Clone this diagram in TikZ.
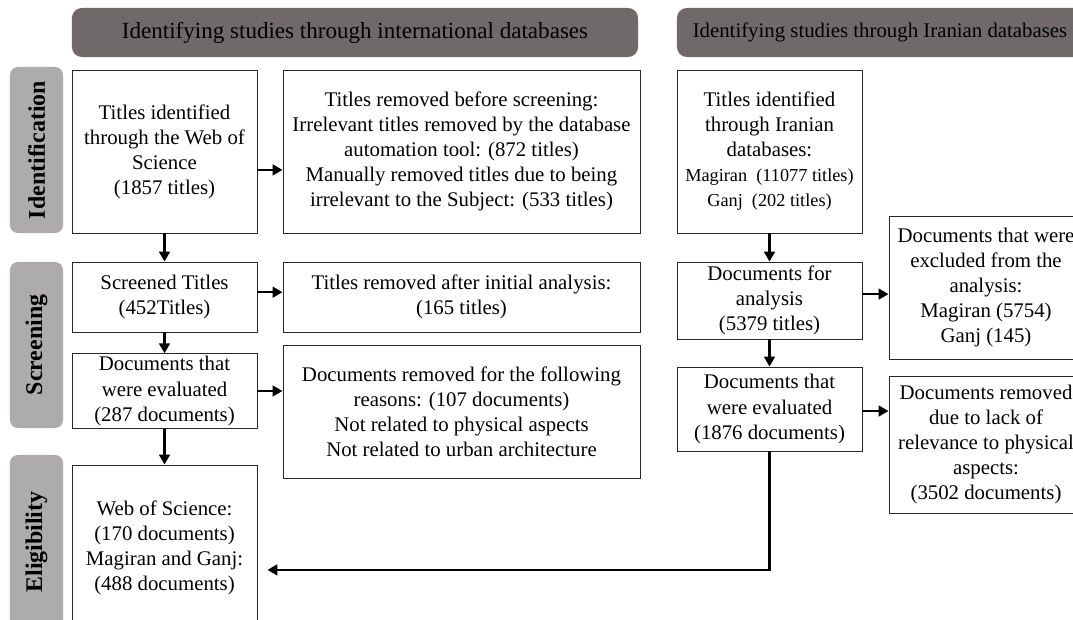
\documentclass[tikz,border=0pt]{standalone}
\usepackage{fontspec}
\setmainfont{Liberation Serif}
\usetikzlibrary{arrows.meta}
\definecolor{headgray}{HTML}{6F6969}
\definecolor{sidegray}{HTML}{ADABAB}
\tikzset{
    box/.style={draw=black!85, line width=0.6pt, fill=white, align=center, inner sep=2pt,
        font=\fontsize{14.8}{17.8}\selectfont},
    headbox/.style={fill=headgray, rounded corners=0.25cm, align=center,
        font=\fontsize{14.8}{17.8}\selectfont, minimum height=1.225cm},
    sidebox/.style={fill=sidegray, rounded corners=0.2cm, rotate=90, minimum height=1.325cm,
        font=\fontsize{17}{19}\selectfont\bfseries},
    flow/.style={line width=1.8pt, -{Triangle[length=7pt,width=7.5pt]}}
}
\begin{document}
\begin{tikzpicture}[x=0.025cm, y=-0.025cm]
    \useasboundingbox (0,0) rectangle (1073,619);
    \clip (0,0) rectangle (1073,619);
    % headers
    \node[headbox, minimum width=14.15cm, font=\fontsize{16.4}{19}\selectfont] (head1) at (355,32.5)
        {Identifying studies through international databases};
    \node[headbox, minimum width=10.15cm] (head2) at (880,32.5) {Identifying studies through Iranian databases};
    % stages
    \node[sidebox, minimum width=4.15cm] (ident) at (36.5,150) {Identification};
    \node[sidebox, minimum width=4.15cm] (screen) at (36.5,345) {Screening};
    \node[sidebox, minimum width=4.35cm] (elig) at (36.5,542) {Eligibility};
    % international databases
    \node[box, minimum width=4.625cm, minimum height=4.075cm] (wos) at (164.5,151.5)
        {Titles identified\\through the Web of\\Science\\(1857 titles)};
    \node[box, minimum width=8.925cm, minimum height=4.075cm] (removed) at (461.5,151.5)
        {Titles removed before screening:\\Irrelevant titles removed by the database\\automation tool: (872 titles)\\Manually removed titles due to being\\irrelevant to the Subject: (533 titles)};
    \node[box, minimum width=4.625cm, minimum height=1.75cm] (screened) at (164.5,297)
        {Screened Titles\\(452Titles)};
    \node[box, minimum width=8.925cm, minimum height=1.75cm] (initial) at (461.5,297)
        {Titles removed after initial analysis:\\(165 titles)};
    \node[box, minimum width=4.625cm, minimum height=1.85cm] (evalint) at (164.5,391)
        {Documents that\\were evaluated\\(287 documents)};
    \node[box, minimum width=8.925cm, minimum height=3.325cm] (reasons) at (461.5,411.5)
        {Documents removed for the following\\reasons: (107 documents)\\Not related to physical aspects\\Not related to urban architecture};
    \node[box, minimum width=4.625cm, minimum height=4.125cm] (final) at (164.5,547.5)
        {Web of Science:\\(170 documents)\\Magiran and Ganj:\\(488 documents)};
    % iranian databases
    \node[box, minimum width=4.625cm, minimum height=4.075cm] (iran) at (769.5,151.5)
        {Titles identified\\through Iranian\\databases:\\{\fontsize{13}{15.5}\selectfont Magiran~ (11077 titles)}\\{\fontsize{13}{15.5}\selectfont Ganj~ (202 titles)}};
    \node[box, minimum width=4.625cm, minimum height=1.925cm] (analysis) at (769.5,300.5)
        {Documents for\\analysis\\(5379 titles)};
    \node[box, minimum width=4.625cm, minimum height=2.1cm] (evaliran) at (769.5,409)
        {Documents that\\were evaluated\\(1876 documents)};
    \node[box, minimum width=4.85cm, minimum height=3.575cm] (excluded) at (986,287.5)
        {Documents that were\\excluded from the\\analysis:\\Magiran (5754)\\Ganj (145)};
    \node[box, minimum width=4.85cm, minimum height=3.425cm] (lack) at (986,444.5)
        {Documents removed\\due to lack of\\relevance to physical\\aspects:\\(3502 documents)};
    % arrows
    \draw[flow] (wos) -- (screened);
    \draw[flow] (screened) -- (evalint);
    \draw[flow] (evalint) -- (final);
    \draw[flow] ([yshift=-0.46cm]wos.east) -- ([yshift=-0.46cm]removed.west);
    \draw[flow] ([yshift=0.12cm]screened.east) -- ([yshift=0.12cm]initial.west);
    \draw[flow] (evalint.east) -- (evalint.east -| reasons.west);
    \draw[flow] (iran) -- (analysis);
    \draw[flow] (analysis) -- (evaliran);
    \draw[flow] ([yshift=0.16cm]analysis.east) -- ([yshift=0.16cm]analysis.east -| excluded.west);
    \draw[flow] ([yshift=-0.05cm]evaliran.east) -- ([yshift=-0.05cm]evaliran.east -| lack.west);
    \draw[flow, shorten >=0.25cm] (evaliran.south) |- ([yshift=-0.56cm]final.east);
\end{tikzpicture}
\end{document}
